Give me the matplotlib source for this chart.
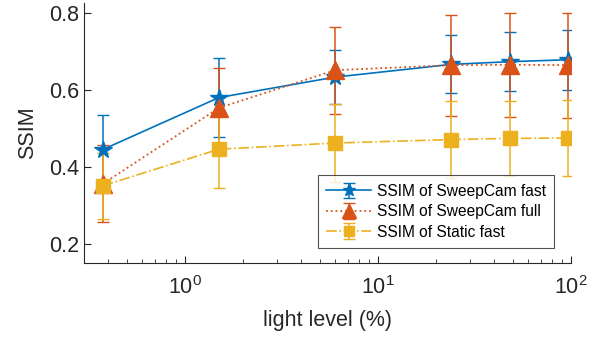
import matplotlib
matplotlib.use('Agg')
import matplotlib.pyplot as plt
import numpy as np

# light levels (%)
light = [0.375, 1.5, 6, 24, 48, 96]

sweep_fast = [0.445, 0.58, 0.633, 0.666, 0.673, 0.678]
sweep_fast_err = [0.089, 0.103, 0.069, 0.075, 0.077, 0.078]

sweep_full = [0.356, 0.553, 0.651, 0.664, 0.665, 0.664]
sweep_full_err = [0.1, 0.103, 0.113, 0.131, 0.135, 0.136]

static_fast = [0.351, 0.446, 0.462, 0.471, 0.474, 0.475]
static_fast_err = [0.086, 0.1, 0.1, 0.099, 0.098, 0.099]

yticks = [0.2, 0.4, 0.6, 0.8]

blue = (0, 0.447, 0.741)
orange = (0.85, 0.325, 0.098)
yellow = (0.929, 0.694, 0.125)

plt.rcParams['font.family'] = ['Liberation Sans', 'DejaVu Sans']
plt.rcParams['mathtext.fontset'] = 'custom'
plt.rcParams['mathtext.rm'] = 'Liberation Sans'

fig = plt.figure(figsize=(6.03, 3.37), dpi=100)
ax = fig.add_axes([0.1393, 0.2187, 0.8077, 0.7733])

ax.errorbar(light, sweep_fast, yerr=sweep_fast_err, color=blue, ls='-',
            lw=1.2, marker='*', markersize=13, capsize=4.5, elinewidth=1.1,
            label='SSIM of SweepCam fast')
ax.errorbar(light, sweep_full, yerr=sweep_full_err, color=orange, ls=':',
            lw=1.3, marker='^', markersize=13, capsize=4.5, elinewidth=1.1,
            label='SSIM of SweepCam full')
ax.errorbar(light, static_fast, yerr=static_fast_err, color=yellow, ls='-.',
            lw=1.2, marker='s', markersize=10.5, capsize=4.5, elinewidth=1.1,
            label='SSIM of Static fast')

ax.set_xscale('log')
ax.set_xlim(0.3, 100)
ax.set_ylim(0.15, 0.826)
ax.set_yticks(yticks)
ax.set_yticklabels([f'{v:.1f}' for v in yticks])

for s in ['top', 'right']:
    ax.spines[s].set_visible(False)
for s in ['left', 'bottom']:
    ax.spines[s].set_color('#262626')
    ax.spines[s].set_linewidth(0.8)
ax.tick_params(which='both', direction='in', colors='#262626',
               labelsize=15.5, labelcolor='#262626')
ax.tick_params(which='major', length=5)
ax.tick_params(which='minor', length=3)
ax.tick_params(axis='x', which='major', pad=9)

ax.set_xlabel('light level (%)', fontsize=15.5, color='#262626', labelpad=8)
ax.set_ylabel('SSIM', fontsize=15.5, color='#262626', labelpad=8)

leg = ax.legend(loc='lower left', bbox_to_anchor=(0.48, 0.058), fontsize=11.2,
                frameon=True, fancybox=False, borderpad=0.55, handlelength=2.9,
                handletextpad=0.35, labelspacing=0.35, borderaxespad=0,
                markerscale=0.75)
leg.get_frame().set_edgecolor('#262626')
leg.get_frame().set_linewidth(0.8)

fig.savefig('out.png', dpi=100)
